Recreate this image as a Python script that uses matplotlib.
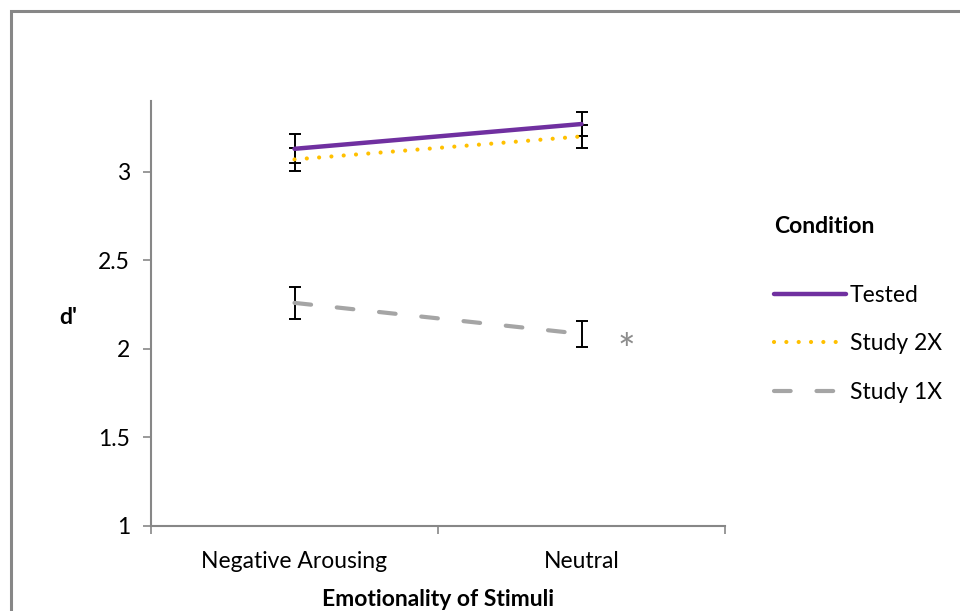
import matplotlib
matplotlib.use('Agg')
import matplotlib.pyplot as plt
from matplotlib.patches import Rectangle

plt.rcParams['font.family'] = ['Lato', 'DejaVu Sans']

# data
categories = ['Negative Arousing', 'Neutral']
conditions = ['Tested', 'Study 2X', 'Study 1X']
tested = [3.13, 3.27]
tested_err = [0.081, 0.07]
study2x = [3.07, 3.20]
study2x_err = [0.066, 0.067]
study1x = [2.26, 2.085]
study1x_err = [0.092, 0.075]
y_ticks = [1, 1.5, 2, 2.5, 3]

FS = 16.5

fig = plt.figure(figsize=(9.6, 6.11), dpi=100)
ax = fig.add_axes([151 / 960, 1 - 526 / 611, (725 - 151) / 960, (526 - 101) / 611])

# outer chart border
fig.patches.append(Rectangle((11 / 960, -0.1), 1.2, 1 - 11 / 611 + 0.1, transform=fig.transFigure,
                             fill=False, edgecolor='#878787', linewidth=2.2))

x = list(range(len(categories)))
styles = [
    dict(color='#7030A0', linestyle='-', linewidth=3.2, solid_capstyle='round'),
    dict(color='#FFC000', linestyle=(0, (0.01, 2.95)), linewidth=3.0, dash_capstyle='round'),
    dict(color='#A5A5A5', linestyle=(0, (4.0, 6.2)), linewidth=3.0, dash_capstyle='round'),
]
series = [(tested, tested_err), (study2x, study2x_err), (study1x, study1x_err)]

for (vals, errs), name, st in zip(series, conditions, styles):
    ax.errorbar(x, vals, yerr=errs, fmt='none', ecolor='black', elinewidth=1.4,
                capsize=4, capthick=1.4, zorder=2)
    ax.plot(x, vals, label=name, zorder=3, **st)

# significance marker
ax.text(1.157, 1.985, '*', color='#8C8C8C', fontsize=30, ha='center', va='center')

ax.set_xlim(-0.5, 1.5)
ax.set_ylim(1, 3.4)
ax.set_yticks(y_ticks)
ax.set_yticklabels(['1', '1.5', '2', '2.5', '3'])
ax.set_xticks([-0.5, 0.5, 1.5])
ax.set_xticklabels(['', '', ''])
ax.set_xticks(x, minor=True)
ax.set_xticklabels(categories, minor=True)
ax.tick_params(axis='x', which='minor', length=0, pad=18, labelsize=FS)
ax.tick_params(axis='both', which='major', length=6, width=1.2, color='#878787', labelsize=FS)
ax.tick_params(axis='y', pad=9)

for side in ['top', 'right']:
    ax.spines[side].set_visible(False)
for side in ['left', 'bottom']:
    ax.spines[side].set_color('#878787')
    ax.spines[side].set_linewidth(1.5)

ax.set_xlabel('Emotionality of Stimuli', fontsize=FS, fontweight='bold', labelpad=12)
ax.set_ylabel("d'", fontsize=FS, fontweight='bold', rotation=0, labelpad=0)
ax.yaxis.set_label_coords(-0.145, 0.466)

leg = ax.legend(title='Condition', loc='upper left', bbox_to_anchor=(763 / 960, 1 - 205 / 611),
                bbox_transform=fig.transFigure, frameon=False, fontsize=FS, borderpad=0,
                title_fontproperties={'weight': 'bold', 'size': FS},
                handlelength=3.1, handletextpad=0.2, labelspacing=1.2, alignment='left')
leg._legend_box.sep = 34

fig.savefig('out.png', dpi=100)
